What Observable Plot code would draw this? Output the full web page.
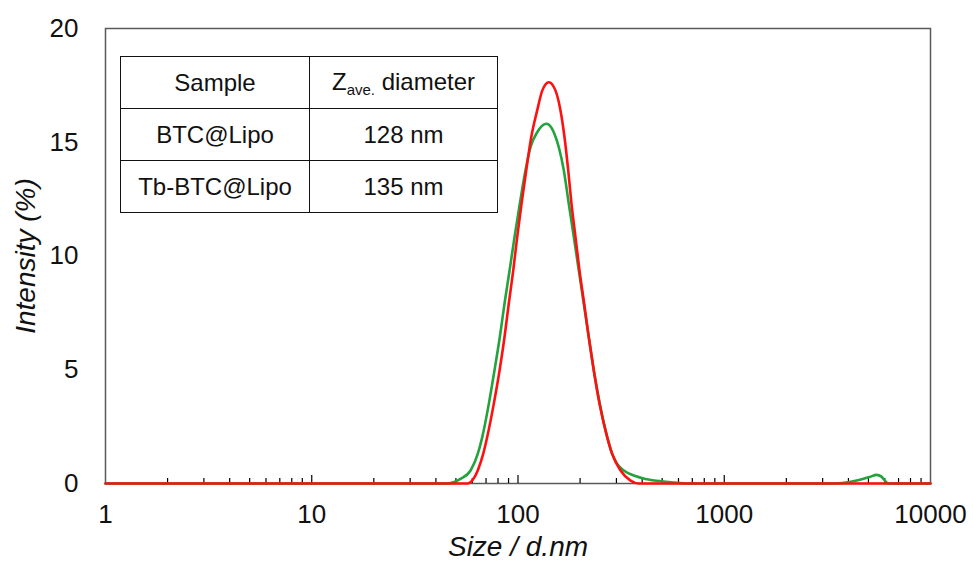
<!DOCTYPE html>
<html>
<head>
<meta charset="utf-8">
<script src="https://cdn.jsdelivr.net/npm/d3@7"></script>
<script src="https://cdn.jsdelivr.net/npm/@observablehq/plot@0.6"></script>
<style>
  html, body { margin: 0; padding: 0; background: #fff; }
  #wrap { position: relative; width: 973px; height: 563px; font-family: "Liberation Sans", Arial, sans-serif; }
  #wrap svg [aria-label="y-axis label"] text,
  #wrap svg [aria-label="x-axis label"] text { font-style: italic; font-size: 28px; }
  #tbl { position: absolute; left: 120px; top: 56px; border-collapse: collapse; font-family: "Liberation Sans", Arial, sans-serif; font-size: 24px; color: #111; background: #fff; }
  #tbl td { border: 1.5px solid #111; text-align: center; padding: 0; height: 51px; }
  #tbl td.c1 { width: 188px; }
  #tbl td.c2 { width: 187px; }
  #tbl sub { font-size: 15px; vertical-align: -5px; }
</style>
</head>
<body>
<div id="wrap"></div>
<script>
// ---- data ----
const xTicks = [1, 10, 100, 1000, 10000];
const yTicks = [0, 5, 10, 15, 20];
const minorTicks = [2,3,4,5,6,7,8,9, 20,30,40,50,60,70,80,90, 200,300,400,500,600,700,800,900, 2000,3000,4000,5000,6000,7000,8000,9000];
const majorInnerTicks = [10, 100, 1000];

// red curve
const redSize = [1, 57, 63.8, 67.8, 70.9, 76.3, 81.4, 86.0, 90.2, 94.8, 99.1, 104.0, 109.6, 115.9, 123.9, 131.1, 141.1,
  152.0, 160.7, 168.1, 175.2, 181.7, 190.0, 198.7, 209.4, 220.4, 233.1, 248.5, 270.7, 286.2, 314.1, 351.3, 384, 10000];
const redIntensity = [0, 0, 0.57, 1.30, 2.04, 3.50, 4.97, 6.43, 7.90, 9.36, 10.83, 12.29, 13.76, 15.22, 16.40, 17.27, 17.64,
  17.27, 16.40, 15.22, 13.76, 12.29, 10.83, 9.36, 7.90, 6.43, 4.97, 3.50, 2.04, 1.30, 0.57, 0.13, 0, 0];

// green curve
const greenSize = [1, 45.4, 52.6, 58.9, 63.8, 67.1, 72.2, 76.9, 81.6, 86.0, 91.0, 96.2, 102.0, 108.7, 115.0, 123.9, 137.4,
  149.1, 157.7, 166.8, 176.3, 186.5, 197.2, 208.4, 220.4, 233.1, 249.3, 270.7, 286.2, 302.7, 325.8, 364.4, 415.2, 519, 686,
  3463, 4329, 5118, 5473, 5787, 6118, 6257, 10000];
const greenIntensity = [0, 0, 0.2, 0.57, 1.30, 2.04, 3.50, 4.97, 6.43, 7.90, 9.36, 10.83, 12.29, 13.76, 14.78, 15.44, 15.81,
  15.44, 14.78, 13.76, 12.29, 10.83, 9.36, 7.90, 6.43, 4.97, 3.50, 2.04, 1.30, 0.86, 0.57, 0.35, 0.2, 0.08, 0,
  0, 0.12, 0.30, 0.38, 0.30, 0.05, 0, 0];

// inset table
const tableHeader = ["Sample", "Z", "ave.", " diameter"];
const tableSamples = ["BTC@Lipo", "Tb-BTC@Lipo"];
const tableDiameters = ["128 nm", "135 nm"];

const xLabel = "Size / d.nm";
const yLabel = "Intensity (%)";

// ---- build ----
const red = redSize.map((s, i) => ({size: s, v: redIntensity[i]}));
const green = greenSize.map((s, i) => ({size: s, v: greenIntensity[i]}));

const chart = Plot.plot({
  width: 973,
  height: 563,
  marginLeft: 105,
  marginRight: 43,
  marginTop: 28,
  marginBottom: 80,
  style: {fontFamily: "Liberation Sans, Arial, sans-serif", fontSize: "26px", color: "#111", background: "#fff"},
  x: {type: "log", domain: [1, 10000]},
  y: {domain: [0, 20]},
  marks: [
    Plot.frame({stroke: "#595959", strokeWidth: 1.5}),
    Plot.ruleX(minorTicks, {x: d => d, y1: 0, y2: 0, insetTop: -5, stroke: "#000", strokeWidth: 1.2}),
    Plot.ruleX(majorInnerTicks, {x: d => d, y1: 0, y2: 0, insetTop: -8, stroke: "#000", strokeWidth: 1.2}),
    Plot.axisX({ticks: xTicks, tickSize: 0, tickPadding: 21, tickFormat: d => String(d),
      label: xLabel, labelArrow: "none", labelAnchor: "center", labelOffset: 72, fontSize: 26}),
    Plot.axisY({ticks: yTicks, tickSize: 0, tickPadding: 27, tickFormat: d => String(d),
      label: yLabel, labelArrow: "none", labelAnchor: "center", labelOffset: 90, fontSize: 26}),
    Plot.line(green, {x: "size", y: "v", stroke: "#22a33c", strokeWidth: 2.6, curve: "monotone-x"}),
    Plot.line(red, {x: "size", y: "v", stroke: "#ff1010", strokeWidth: 2.6, curve: "monotone-x"})
  ]
});

const wrap = document.getElementById("wrap");
wrap.appendChild(chart);

// table overlay
const tbl = document.createElement("table");
tbl.id = "tbl";
const hr = tbl.insertRow();
const h1 = hr.insertCell(); h1.className = "c1"; h1.textContent = tableHeader[0];
const h2 = hr.insertCell(); h2.className = "c2";
h2.appendChild(document.createTextNode(tableHeader[1]));
const sub = document.createElement("sub"); sub.textContent = tableHeader[2]; h2.appendChild(sub);
h2.appendChild(document.createTextNode(tableHeader[3]));
tableSamples.forEach((s, i) => {
  const r = tbl.insertRow();
  const a = r.insertCell(); a.className = "c1"; a.textContent = s;
  const b = r.insertCell(); b.className = "c2"; b.textContent = tableDiameters[i];
});
wrap.appendChild(tbl);
</script>
</body>
</html>
